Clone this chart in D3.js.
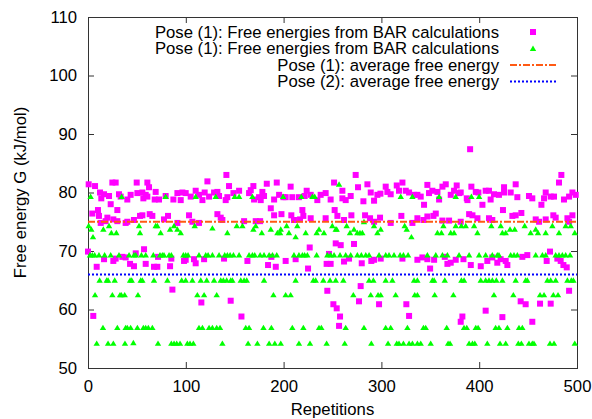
<!DOCTYPE html>
<html>
<head>
<meta charset="utf-8">
<script src="https://cdn.jsdelivr.net/npm/d3@7"></script>
<style>
  body { margin: 0; background: #fff; }
  text { font-family: "Liberation Sans", Arial, sans-serif; }
</style>
</head>
<body>
<svg id="chart"></svg>
<script>
// Axis ticks and labels
const xTicks = [0, 100, 200, 300, 400, 500];
const yTicks = [50, 60, 70, 80, 90, 100, 110];
const legendLabels = [
  "Pose (1): Free energies from BAR calculations",
  "Pose (1): Free energies from BAR calculations",
  "Pose (1): average free energy",
  "Pose (2): average free energy"
];

// Average free energies (kJ/mol)
const pose1Average = 75.0;
const pose2Average = 66.0;

// Free energies from BAR calculations, [repetition, G]
const barPose1 = [
  [0.7,81.4],[7.2,81.1],[24.9,81.7],[28.3,81.7],[49.8,81.7],[60.7,81.7],[62.4,80.9],[12.3,80.0],[16.4,79.7],[13.6,79.0],
  [21.5,79.4],[31.7,79.7],[33.4,79.3],[40.2,78.8],[43.6,79.6],[50.5,79.9],[55.6,80.0],[59.0,79.6],[56.6,79.0],[60.7,79.3],
  [69.2,80.1],[68.2,78.8],[72.6,78.8],[79.4,79.4],[87.3,78.8],[91.4,79.9],[94.8,78.7],[96.5,80.0],[23.2,78.0],[30.0,77.0],
  [4.4,76.4],[10.2,77.0],[11.2,76.0],[19.8,75.7],[18.0,75.1],[25.9,75.4],[30.0,75.1],[40.2,75.0],[47.0,75.3],[53.2,76.0],
  [55.6,76.1],[63.1,76.3],[65.8,76.0],[77.7,75.4],[81.8,76.0],[91.4,74.8],[13.0,74.8],[38.5,74.8],
  [0,69.9],[8.9,67.3],[16.4,68.6],[25.9,68.3],[28.3,68.7],[35.1,69.0],[38.5,68.9],[43.0,67.8],[47.0,67.4],[48.8,69.6],
  [57.3,70.3],[59.0,67.8],[67.5,67.3],[70.9,67.3],[71.6,69.0],[83.9,67.4],[85.2,68.7],[98.2,68.3],[86.3,63.4],[5.4,58.9],
  [141.5,83.0],[122.1,81.9],[144.2,81.1],[169.1,81.1],[182.8,81.5],[193.0,81.7],[99.9,79.9],[110.1,80.3],[113.5,79.6],[105.0,79.3],
  [117.0,78.7],[119.3,80.0],[123.8,79.3],[128.9,80.0],[132.3,80.1],[134.0,79.4],[140.8,78.7],[142.5,79.2],[148.7,79.9],[154.5,80.3],
  [164.7,79.9],[166.4,80.4],[169.8,78.8],[174.9,79.2],[178.3,80.1],[180.0,79.4],[176.6,78.7],[190.3,78.8],[195.4,79.6],[199.8,79.2],
  [186.9,77.3],[197.8,76.3],[190.3,76.1],[103.3,76.1],[106.7,75.0],[113.5,74.8],[132.3,76.3],[135.7,75.7],[137.4,75.3],[159.6,75.1],
  [171.5,75.1],[176.0,75.1],[99.9,68.5],[108.4,68.6],[110.1,67.9],[118.7,68.6],[139.1,68.7],[163.0,68.3],[184.1,67.6],[187.5,69.0],
  [192.0,67.3],[115.9,61.2],[145.9,61.5],[156.9,58.8],
  [273.7,83.0],[251.6,81.7],[207.2,81.0],[276.1,80.9],[285.7,81.4],[202.1,79.2],[208.9,79.2],[215.7,79.2],[221.5,79.4],[223.6,80.3],
  [227.7,79.6],[234.5,78.7],[237.9,79.6],[243.0,79.9],[248.1,78.8],[260.1,80.3],[260.1,79.0],[263.5,78.7],[268.6,79.4],[281.6,78.5],
  [289.1,80.0],[292.5,78.6],[295.9,79.6],[299.0,79.8],[219.2,77.0],[207.9,76.1],[220.2,76.0],[210.6,75.3],[216.8,75.4],[227.7,75.6],
  [243.0,75.6],[252.2,77.0],[255.0,76.0],[261.8,75.3],[269.3,76.1],[283.3,76.1],[288.4,75.6],[292.5,75.0],[298.6,75.7],
  [202.1,68.3],[212.3,68.6],[226.7,70.6],[246.4,69.5],[253.3,71.3],[258.4,71.0],[272.0,71.2],[266.9,68.7],[261.8,68.2],[244.0,67.8],
  [248.1,67.8],[225.0,67.0],[279.9,67.9],[289.7,68.3],[292.5,68.5],[299.3,68.7],[244.7,63.2],[278.8,64.0],[277.1,61.4],[297.6,60.9],
  [250.9,60.9],[254.3,60.2],[257.7,58.8],[256.7,57.2],
  [390.7,87.4],[321.5,81.7],[315.7,81.2],[304.4,81.0],[306.1,80.1],[309.5,79.7],[318.0,80.3],[324.9,80.3],[328.3,80.0],[333.4,79.6],
  [336.8,79.6],[340.2,79.3],[343.6,77.9],[347.0,81.3],[348.7,79.9],[352.1,80.3],[357.3,80.1],[359.0,78.8],[362.4,81.0],[365.8,81.4],
  [370.9,79.6],[374.3,80.3],[377.0,81.2],[379.4,79.9],[381.1,80.0],[387.3,79.0],[392.0,81.0],[396.5,80.1],[399.2,80.0],[403.3,77.9],
  [388.0,78.7],[309.5,74.8],[320.4,76.0],[331.7,74.8],[336.8,75.6],[343.0,75.3],[347.0,75.9],[353.2,76.0],[355.6,76.4],[362.4,75.2],
  [369.2,75.2],[381.1,75.0],[389.7,76.3],[393.1,76.1],[398.2,75.6],
  [321.5,68.7],[336.8,68.5],[341.9,68.9],[347.0,68.6],[349.8,67.0],[353.9,68.5],[364.8,69.0],[367.5,67.8],[370.9,68.0],[376.0,68.5],
  [383.9,68.6],[391.4,67.6],[401.6,67.4],[325.5,60.9],[328.3,58.9],[382.8,58.8],[381.1,57.9],
  [484.0,83.0],[481.6,81.7],[437.3,81.4],[425.4,80.9],[406.6,80.3],[410.0,80.3],[415.1,79.7],[420.2,79.6],[425.4,80.0],[432.2,80.0],
  [439.0,79.2],[450.9,79.4],[454.3,79.0],[466.3,79.0],[468.0,80.0],[473.1,79.3],[476.5,79.3],[486.7,78.8],[491.9,79.3],[495.3,80.0],
  [498.7,79.6],[411.7,78.8],[463.6,77.9],[424.3,77.0],[410.0,75.6],[413.4,75.3],[433.9,76.0],[443.1,76.5],[437.3,76.1],[457.8,75.4],
  [461.2,75.0],[468.0,75.4],[475.8,76.1],[478.2,75.7],[490.2,75.6],[495.3,76.1],[491.9,75.0],
  [408.3,68.3],[413.4,68.9],[418.5,68.0],[421.9,68.6],[428.8,67.6],[427.1,68.3],[444.1,69.0],[449.2,69.3],[469.0,68.3],[472.4,69.9],
  [479.9,68.7],[483.3,68.3],[486.1,67.6],[489.5,67.2],[406.6,59.8],[423.7,58.7],[442.4,61.4],[447.5,60.9],[454.3,57.9],[462.2,61.0],
  [473.1,61.0],[491.9,63.2]
];

const barPose2 = [
  [2.7,79.3],[34.4,79.3],[79.4,79.3],
  [0.7,74.3],[3.4,73.7],[5.1,72.4],[15.7,73.7],[21.5,74.3],[23.9,73.1],[29.0,73.1],[52.2,74.3],[53.2,73.1],[69.2,74.3],[70.9,74.3],
  [74.3,73.1],[83.9,73.7],[88.0,74.3],[94.8,73.1],[91.4,73.7],
  [2.0,69.3],[4.4,69.3],[6.8,69.3],[11.2,69.3],[17.0,69.3],[23.2,69.3],[31.7,69.3],[42.0,69.3],[47.0,69.3],[48.8,69.3],
  [54.6,69.3],[59.0,69.3],[66.8,69.3],[73.6,69.3],[76.0,69.3],[77.7,69.3],[82.9,69.3],[85.2,69.3],[97.5,69.3],
  [11.9,65.0],[19.1,65.0],[20.5,65.0],[27.3,65.0],[43.0,65.0],[44.7,65.0],[53.9,65.0],[55.6,65.0],[67.5,65.0],[81.2,65.0],[95.8,65.0],
  [7.2,62.5],[24.9,62.5],[32.7,62.5],[34.1,62.5],[37.5,62.5],[51.1,62.5],
  [15.3,56.9],[30.0,56.9],[38.5,56.9],[40.2,56.9],[43.6,56.9],[50.5,56.9],[56.6,56.9],[59.0,56.9],[61.7,56.9],[65.8,56.9],
  [8.9,54.2],[20.5,54.2],[25.9,54.2],[37.8,54.2],[46.4,54.3],[71.6,54.2],[85.2,54.2],[88.0,54.2],[90.7,54.2],[94.1,54.2],
  [110.1,79.3],[130.6,79.3],[150.0,79.3],[154.5,79.3],[168.1,79.3],[199.5,79.3],
  [109.1,74.3],[127.2,73.9],[142.5,73.1],[152.1,74.3],[157.9,74.3],[169.1,73.7],[171.5,74.3],[177.7,73.1],[186.9,73.7],[193.7,73.1],
  [197.1,73.7],[196.4,73.1],
  [99.9,69.3],[102.3,69.3],[113.5,69.3],[120.4,69.3],[122.8,69.3],[127.2,69.3],[134.0,69.3],[139.8,69.3],[142.5,69.3],[145.3,69.3],
  [148.7,69.3],[154.5,69.3],[164.7,69.3],[168.1,69.3],[170.5,69.3],[176.0,69.3],[180.0,69.3],[185.2,69.3],[188.6,69.3],[193.0,69.3],
  [99.9,65.0],[106.7,65.0],[115.3,65.0],[121.4,65.0],[128.9,65.0],[135.7,65.0],[138.4,65.0],[141.8,65.0],[145.9,65.0],[147.6,65.0],
  [156.2,65.0],[159.6,65.0],[162.3,65.0],[180.0,65.0],
  [111.8,62.5],[118.7,62.5],[131.6,62.5],[189.6,62.5],
  [113.5,56.9],[117.0,56.9],[123.8,56.9],[127.2,56.9],[131.6,56.9],[135.0,56.9],[161.3,56.9],[164.7,56.9],[179.4,56.9],[187.5,56.9],
  [101.6,54.2],[104.3,54.2],[107.7,54.2],[137.4,54.2],[163.7,54.2],[173.2,54.2],[185.2,54.2],[191.0,54.2],[197.1,54.2],
  [218.1,79.3],[229.4,79.3],[231.8,79.3],[256.7,81.4],
  [203.1,74.3],[205.5,73.1],[212.3,72.4],[214.0,74.3],[222.6,73.1],[233.8,73.1],[236.2,73.7],[241.3,73.1],[249.8,74.3],[253.3,73.7],
  [254.3,73.7],[264.5,74.3],[267.9,73.1],[272.0,73.7],[275.4,73.1],[278.1,73.1],[280.5,73.1],[282.2,75.0],[292.5,74.3],[295.9,73.1],
  [299.3,73.7],
  [210.6,69.3],[215.7,69.3],[219.2,69.3],[221.5,69.3],[224.3,69.3],[233.8,69.3],[244.7,69.3],[248.1,69.3],[251.6,69.3],[257.7,69.3],
  [263.5,69.3],[268.6,69.3],[275.4,69.3],[279.5,69.3],[284.0,69.3],[287.4,69.3],[297.6,69.3],
  [212.3,65.0],[230.4,65.0],[232.8,65.0],[240.6,65.0],[247.5,65.0],[253.3,65.0],[261.1,65.0],[287.4,65.0],[291.8,65.0],
  [202.1,62.5],[207.2,62.5],[271.3,62.5],[289.1,62.5],[296.6,62.5],[299.3,62.5],
  [208.9,56.9],[220.2,56.9],[236.2,56.9],[238.6,56.9],[263.5,56.9],[282.2,56.9],
  [215.7,54.2],[227.0,54.2],[244.0,54.2],[262.5,54.2],[289.7,54.2],
  [319.8,79.3],[331.7,79.3],[359.0,79.3],[376.0,79.3],[392.0,79.3],[399.9,79.3],
  [323.8,74.3],[325.9,73.7],[330.7,72.4],[357.3,73.1],[361.4,73.1],[363.4,74.3],[370.9,73.1],[374.3,73.1],[376.0,74.3],[381.8,74.3],
  [386.2,74.3],[394.8,74.3],[398.2,73.1],
  [304.4,69.3],[307.8,69.3],[312.9,69.3],[319.1,69.3],[322.5,69.3],[327.3,69.3],[347.0,69.3],[355.6,69.3],[362.4,69.3],[367.5,69.3],
  [379.4,69.3],[389.7,69.3],[399.9,69.3],
  [304.4,65.0],[311.2,65.0],[333.4,65.0],[336.8,65.0],[352.1,65.0],[353.9,65.0],[364.8,65.0],[381.8,65.0],[384.5,65.0],[401.6,65.0],
  [314.6,62.5],[334.1,62.5],[336.8,62.5],[354.5,62.5],[373.6,62.5],
  [304.4,56.9],[309.5,56.9],[326.6,56.9],[343.0,56.9],[345.3,56.9],[366.8,56.9],[384.5,56.9],[387.3,56.9],[396.5,56.9],[398.9,56.9],
  [306.8,54.2],[315.7,54.2],[318.0,54.2],[322.5,54.2],[328.3,54.2],[331.7,54.2],[336.8,54.2],[340.2,54.2],[350.4,54.2],[368.2,54.2],
  [370.2,54.2],[389.7,54.2],[393.1,54.2],[395.5,54.2],
  [412.4,74.3],[422.0,74.3],[423.7,73.1],[427.1,73.1],[431.5,73.7],[436.3,73.7],[446.5,74.3],[452.6,73.1],[457.8,73.7],[460.1,73.1],
  [468.0,73.1],[474.8,74.3],[481.6,73.1],[488.4,74.3],[493.6,74.3],[497.7,73.1],
  [406.6,69.3],[413.4,69.3],[418.5,69.3],[420.2,69.3],[432.2,69.3],[435.6,69.3],[439.0,69.3],[457.8,69.3],[464.6,69.3],[468.0,69.3],
  [478.2,69.3],[481.6,69.3],[485.0,69.3],[488.4,69.3],[492.9,69.3],
  [406.6,65.0],[410.0,65.0],[413.4,65.0],[417.5,65.0],[423.7,65.0],[437.3,65.0],[447.5,65.0],[449.2,65.0],[469.7,65.0],[473.1,65.0],
  [478.2,65.0],[490.2,65.0],[494.2,65.0],[496.3,65.0],
  [415.1,62.5],[434.9,62.5],[462.2,62.5],[466.3,62.5],[475.8,62.5],[480.6,62.5],
  [416.8,56.9],[420.2,56.9],[428.8,56.9],[440.7,56.9],[444.1,56.9],
  [408.3,54.2],[421.3,54.2],[427.1,54.2],[440.0,54.2],[443.1,54.2],[450.9,54.2],[454.3,54.2],[456.0,54.2],[472.4,54.2],[476.5,54.2],
  [497.7,54.2]
];

// Chart dimensions
const totalWidth = 592;
const totalHeight = 419;
const margin = { top: 17, right: 15, bottom: 51, left: 88 };
const width = totalWidth - margin.left - margin.right;
const height = totalHeight - margin.top - margin.bottom;
const fontSize = "16.7px";

const svg = d3.select("#chart")
    .attr("width", totalWidth)
    .attr("height", totalHeight);

svg.append("rect")
    .attr("width", totalWidth)
    .attr("height", totalHeight)
    .attr("fill", "#fff");

const g = svg.append("g")
    .attr("transform", `translate(${margin.left},${margin.top})`);

// scales
const x = d3.scaleLinear().domain([0, 500]).range([0, width]);
const y = d3.scaleLinear().domain([50, 110]).range([height, 0]);

// axes with inward ticks (mirrored on top and right)
function styleAxis(sel) {
  sel.select(".domain").remove();
  sel.selectAll(".tick line").attr("stroke", "#333");
  sel.selectAll(".tick text").attr("fill", "#000").style("font-size", fontSize);
}

g.append("g")
    .attr("transform", `translate(0,${height})`)
    .call(d3.axisBottom(x).tickValues(xTicks).tickSizeInner(-6).tickSizeOuter(0).tickPadding(12))
    .call(styleAxis);

g.append("g")
    .call(d3.axisTop(x).tickValues(xTicks).tickSizeInner(-6).tickSizeOuter(0).tickFormat(""))
    .call(styleAxis);

g.append("g")
    .call(d3.axisLeft(y).tickValues(yTicks).tickSizeInner(-6).tickSizeOuter(0).tickPadding(11))
    .call(styleAxis);

g.append("g")
    .attr("transform", `translate(${width},0)`)
    .call(d3.axisRight(y).tickValues(yTicks).tickSizeInner(-6).tickSizeOuter(0).tickFormat(""))
    .call(styleAxis);

// frame
g.append("rect")
    .attr("width", width)
    .attr("height", height)
    .attr("fill", "none")
    .attr("stroke", "#333")
    .attr("stroke-width", 1)
    .attr("shape-rendering", "crispEdges");

// axis labels
svg.append("text")
    .attr("x", margin.left + width / 2)
    .attr("y", 415)
    .attr("text-anchor", "middle")
    .style("font-size", fontSize)
    .text("Repetitions");

svg.append("text")
    .attr("transform", `translate(26,${margin.top + height / 2}) rotate(-90)`)
    .attr("text-anchor", "middle")
    .style("font-size", fontSize)
    .text("Free energy G (kJ/mol)");

const magenta = "#ff00ff";
const green = "#00ff00";
const orange = "#ff5a14";
const blue = "#0000ff";
const trianglePath = "M0,-3L3.2,2.4L-3.2,2.4Z";

// scatter: Pose (1) squares
g.append("g").selectAll("rect")
    .data(barPose1)
    .enter()
    .append("rect")
    .attr("x", d => x(d[0]) - 3)
    .attr("y", d => y(d[1]) - 3)
    .attr("width", 6)
    .attr("height", 6)
    .attr("fill", magenta);

// scatter: second series triangles
g.append("g").selectAll("path")
    .data(barPose2)
    .enter()
    .append("path")
    .attr("d", trianglePath)
    .attr("transform", d => `translate(${x(d[0])},${y(d[1])})`)
    .attr("fill", green);

// average lines
g.append("line")
    .attr("x1", x(0)).attr("x2", x(500))
    .attr("y1", y(pose1Average)).attr("y2", y(pose1Average))
    .attr("stroke", orange)
    .attr("stroke-width", 2)
    .attr("stroke-dasharray", "7,2,2,2");

g.append("line")
    .attr("x1", x(0)).attr("x2", x(500))
    .attr("y1", y(pose2Average)).attr("y2", y(pose2Average))
    .attr("stroke", blue)
    .attr("stroke-width", 2)
    .attr("stroke-dasharray", "2,2");

// legend
const legendRows = [37.5, 54, 70.5, 87];
const legend = svg.append("g");
legendLabels.forEach((label, i) => {
  legend.append("text")
      .attr("x", 499)
      .attr("y", legendRows[i])
      .attr("text-anchor", "end")
      .style("font-size", fontSize)
      .text(label);
});

const sampleY = legendRows.map(r => r - 5.5);
legend.append("rect")
    .attr("x", 530).attr("y", sampleY[0] - 3)
    .attr("width", 6).attr("height", 6)
    .attr("fill", magenta);
legend.append("path")
    .attr("d", trianglePath)
    .attr("transform", `translate(533,${sampleY[1]})`)
    .attr("fill", green);
legend.append("line")
    .attr("x1", 510).attr("x2", 556)
    .attr("y1", sampleY[2]).attr("y2", sampleY[2])
    .attr("stroke", orange)
    .attr("stroke-width", 2)
    .attr("stroke-dasharray", "7,2,2,2");
legend.append("line")
    .attr("x1", 510).attr("x2", 556)
    .attr("y1", sampleY[3]).attr("y2", sampleY[3])
    .attr("stroke", blue)
    .attr("stroke-width", 2)
    .attr("stroke-dasharray", "2,2");
</script>
</body>
</html>
